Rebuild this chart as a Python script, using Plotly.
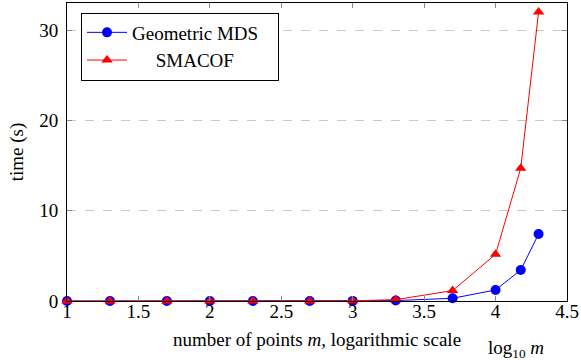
import plotly.graph_objects as go

log_m = [1, 1.30103, 1.69897, 2, 2.30103, 2.69897, 3, 3.30103, 3.69897, 4, 4.17609, 4.30103]
geo_mds = [0.0, 0.0, 0.0, 0.0, 0.0, 0.0, 0.01, 0.05, 0.3, 1.22, 3.43, 7.42]
smacof = [0.0, 0.0, 0.0, 0.0, 0.0, 0.0, 0.02, 0.15, 1.15, 5.17, 14.7, 32.0]
series_names = ["Geometric MDS", "SMACOF"]

x_ticks = [1, 1.5, 2, 2.5, 3, 3.5, 4, 4.5]
x_tick_text = ["1", "1.5", "2", "2.5", "3", "3.5", "4", "4.5"]
y_ticks = [0, 10, 20, 30]

FONT = "Liberation Serif"
FS = 19

fig = go.Figure()
fig.add_trace(go.Scatter(
    x=log_m, y=geo_mds, mode="lines+markers", name=series_names[0] + "\u00a0\u00a0\u00a0",
    line=dict(color="blue", width=1),
    marker=dict(symbol="circle", size=10, color="blue"),
    cliponaxis=False,
))
fig.add_trace(go.Scatter(
    x=log_m, y=smacof, mode="lines+markers", name="\u00a0" * 5 + series_names[1],
    line=dict(color="red", width=1),
    marker=dict(symbol="triangle-up", size=10, color="red"),
    cliponaxis=False,
))

L, R, T, B = 67, 14, 3, 59
pw = 581 - L - R
ph = 360 - T - B

fig.update_layout(
    width=581, height=360,
    margin=dict(l=L, r=R, t=T, b=B),
    paper_bgcolor="white", plot_bgcolor="white",
    font=dict(family=FONT, size=FS, color="black"),
    showlegend=True,
    legend=dict(
        x=(81 - L) / pw, y=(360 - B - 12.5) / ph, xanchor="left", yanchor="top",
        bordercolor="black", borderwidth=1, bgcolor="white",
        font=dict(family=FONT, size=FS),
        itemwidth=40, tracegroupgap=0,
    ),
    xaxis=dict(
        range=[1, 4.5], tickvals=x_ticks, ticktext=x_tick_text,
        showgrid=False, zeroline=False,
        showline=True, linecolor="black", linewidth=1, mirror="ticks",
        ticks="inside", ticklen=5, tickcolor="#888888",
        tickfont=dict(family=FONT, size=FS),
        ticklabelstandoff=-7,
        title=dict(text="number of points <i>m</i>, logarithmic scale",
                   font=dict(family=FONT, size=FS), standoff=11),
    ),
    yaxis=dict(
        range=[0, 33], tickvals=y_ticks,
        showgrid=True, gridcolor="#c8c8c8", griddash="dash", gridwidth=1,
        zeroline=False,
        showline=True, linecolor="black", linewidth=1, mirror="ticks",
        ticks="inside", ticklen=5, tickcolor="#888888",
        tickfont=dict(family=FONT, size=FS),
        ticklabelstandoff=4,
        title=dict(text="time (s)", font=dict(family=FONT, size=FS), standoff=10),
    ),
    annotations=[dict(
        text="log<sub>10</sub> <i>m</i>",
        x=(516 - L) / pw, y=(360 - B - 349) / ph,
        xref="paper", yref="paper", xanchor="center", yanchor="middle",
        showarrow=False, font=dict(family=FONT, size=FS),
    )],
)

fig.write_html("out.html")
